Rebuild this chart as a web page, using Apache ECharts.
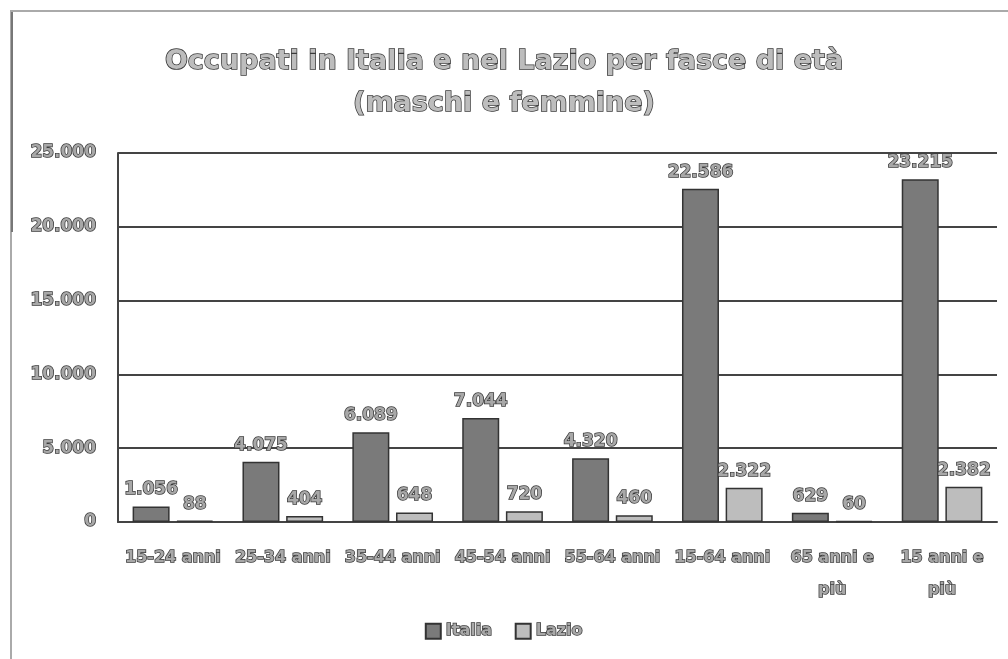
<!DOCTYPE html>
<html>
<head>
<meta charset="utf-8">
<script src="https://cdn.jsdelivr.net/npm/echarts@6/dist/echarts.min.js"></script>
<style>
html,body{margin:0;padding:0;background:#fff;}
#c{width:1008px;height:659px;}
</style>
</head>
<body>
<div id="c"></div>
<script>
const categories = ['15-24 anni','25-34 anni','35-44 anni','45-54 anni','55-64 anni','15-64 anni','65 anni e\npiù','15 anni e\npiù'];
const italia = [1056, 4075, 6089, 7044, 4320, 22586, 629, 23215];
const lazio = [88, 404, 648, 720, 460, 2322, 60, 2382];
const yTicks = [0, 5000, 10000, 15000, 20000, 25000];

const fmt = v => v.toString().replace(/\B(?=(\d{3})+(?!\d))/g, '.');
const txt = {
  fontFamily: 'DejaVu Sans', fontWeight: 'bold',
  color: '#a8a8a8', textBorderColor: '#3a3a3a', textBorderWidth: 1.5
};
const lbl = Object.assign({
  show: true, position: 'top', distance: 8, fontSize: 17,
  formatter: p => fmt(p.value)
}, txt);
const chart = echarts.init(document.getElementById('c'));
chart.setOption({
  backgroundColor: '#fff',
  animation: false,
  title: {
    text: 'Occupati in Italia e nel Lazio per fasce di età\n(maschi e femmine)',
    left: 'center', top: 36,
    textStyle: Object.assign({fontSize: 27, lineHeight: 42}, txt, {color: '#bdbdbd'})
  },
  legend: {
    bottom: 14, left: 'center', itemWidth: 15, itemHeight: 15, itemGap: 22,
    icon: 'rect',
    textStyle: Object.assign({fontSize: 16}, txt),
    data: ['Italia', 'Lazio']
  },
  graphic: [{
    type: 'polyline', silent: true,
    shape: {points: [[11, 659], [11, 11], [1008, 11]]},
    style: {stroke: '#aaa', lineWidth: 2, fill: null}
  }, {
    type: 'line', silent: true,
    shape: {x1: 12, y1: 12, x2: 12, y2: 232},
    style: {stroke: '#777', lineWidth: 2}
  }],
  grid: {left: 118, right: 11, top: 153, bottom: 137},
  xAxis: {
    type: 'category', data: categories,
    axisLine: {lineStyle: {color: '#444', width: 2}},
    axisTick: {show: false},
    axisLabel: Object.assign({interval: 0, margin: 20, lineHeight: 32, fontSize: 16}, txt)
  },
  yAxis: {
    type: 'value', min: 0, max: 25000, interval: 5000,
    axisLine: {show: true, lineStyle: {color: '#444', width: 2}},
    axisTick: {show: false},
    splitLine: {lineStyle: {color: '#444', width: 2}},
    axisLabel: Object.assign({margin: 22, fontSize: 17,
      formatter: v => yTicks.includes(v) ? fmt(v) : ''}, txt)
  },
  series: [
    {name: 'Italia', type: 'bar', data: italia, barWidth: 37, barGap: '18%',
      itemStyle: {color: '#7a7a7a', borderColor: '#333', borderWidth: 1.5},
      label: lbl},
    {name: 'Lazio', type: 'bar', data: lazio, barWidth: 37,
      itemStyle: {color: '#bdbdbd', borderColor: '#333', borderWidth: 1.5},
      label: lbl}
  ]
});
</script>
</body>
</html>
